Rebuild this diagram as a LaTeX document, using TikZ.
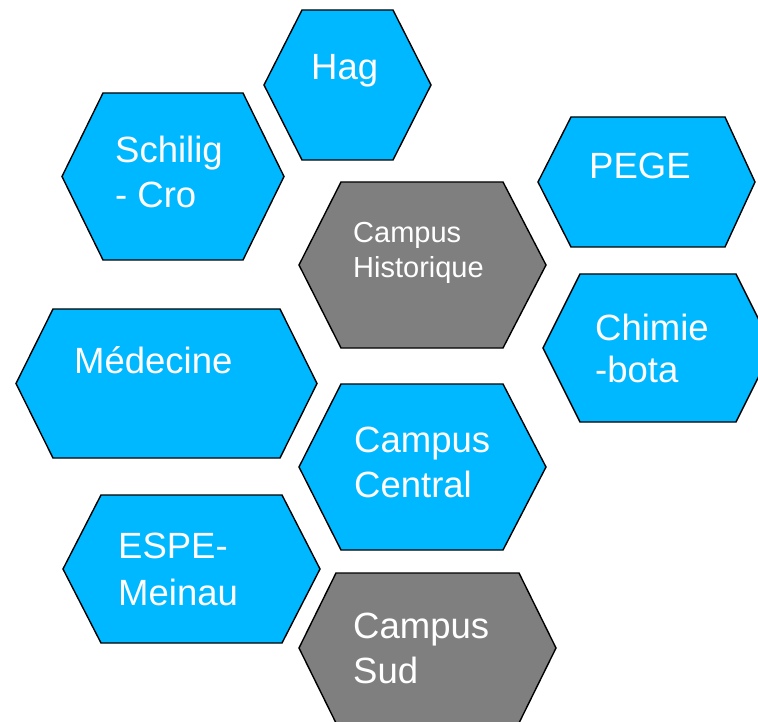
\documentclass[tikz,border=0pt]{standalone}
\usepackage{fontspec}
\setmainfont{Liberation Sans}
\definecolor{hexblue}{HTML}{00B8FF}
\definecolor{hexgray}{HTML}{7F7F7F}
\newcommand{\hexshape}[8]{% name, left, right, top, bottom, topL, topR, colour
  \path[hexcell, fill=#8] (#2,{(#4+#5)/2}) -- (#6,#4) -- (#7,#4) -- (#3,{(#4+#5)/2}) -- (#7,#5) -- (#6,#5) -- cycle;
  \coordinate (#1) at ({(#2+#3)/2},{(#4+#5)/2});
}
\newcommand{\twolines}[3]{\vtop{\baselineskip=#3pt\hbox{#1}\hbox{#2}}}
\begin{document}
\begin{tikzpicture}[x=1pt,y=-1pt,
  hexcell/.style={draw=black, line width=1.4pt, line join=miter},
  lbl/.style={anchor=base west, inner sep=0pt, text=white, font=\fontsize{36.5}{44}\selectfont},
  lblsmall/.style={anchor=base west, inner sep=0pt, text=white, font=\fontsize{29}{35}\selectfont}]
\useasboundingbox (0,0) rectangle (758,722);
\begin{scope}
\clip (0,0) rectangle (758,722);
\hexshape{hag}{264}{431}{10}{160}{302}{393}{hexblue}
\hexshape{schilig}{62}{284}{93}{260}{103}{243}{hexblue}
\hexshape{pege}{538}{755}{117}{247}{571}{725}{hexblue}
\hexshape{histo}{299}{546}{182}{348}{341}{503}{hexgray}
\hexshape{medecine}{16}{317}{309}{458}{53}{280}{hexblue}
\hexshape{chimie}{543}{773}{274}{422}{580}{736}{hexblue}
\hexshape{central}{299}{546}{384}{550}{341}{503}{hexblue}
\hexshape{espe}{63}{320}{495}{643}{101}{282}{hexblue}
\hexshape{sud}{299}{556}{573}{723}{336}{519}{hexgray}
\end{scope}
\node[lbl] (thag) at (311,80) {Hag};
\node[lbl] (tschilig) at (115,163) {\twolines{Schilig}{- Cro}{45}};
\node[lbl] (tpege) at (589,179) {PEGE};
\node[lblsmall] (thisto) at (353,243) {\twolines{Campus}{Historique}{35}};
\node[lbl] (tmed) at (74,373) {Médecine};
\node[lbl] (tchimie) at (595,340) {\twolines{Chimie}{-bota}{43}};
\node[lbl] (tcentral) at (354,452) {\twolines{Campus}{Central}{45}};
\node[lbl] (tespe) at (118,558) {\twolines{ESPE-}{Meinau}{47}};
\node[lbl] (tsud) at (353,638) {\twolines{Campus}{Sud}{45}};
\end{tikzpicture}
\end{document}
